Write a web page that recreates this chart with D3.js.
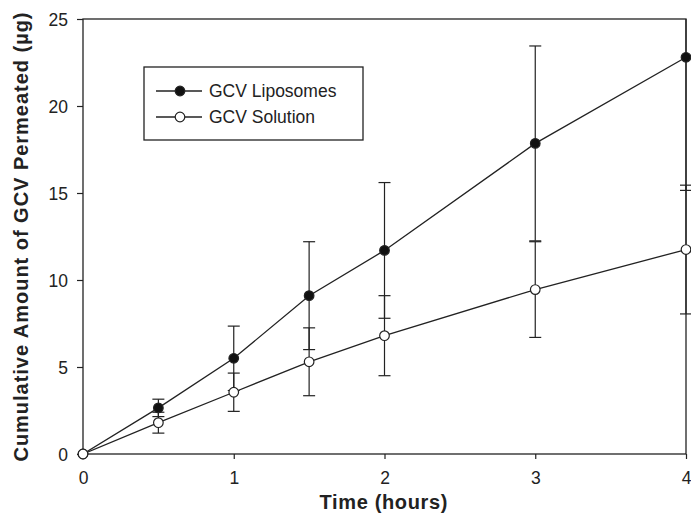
<!DOCTYPE html>
<html>
<head>
<meta charset="utf-8">
<script src="https://cdn.jsdelivr.net/npm/d3@7"></script>
<style>
  html, body { margin: 0; padding: 0; background: #fff; }
  svg text { font-family: "Liberation Sans", Arial, Helvetica, sans-serif; fill: #222; }
</style>
</head>
<body>
<svg id="chart" width="691" height="518"></svg>
<script>
// ---- data ----
const times = [0, 0.5, 1, 1.5, 2, 3, 4];
const liposomeMean = [0, 2.65, 5.5, 9.1, 11.7, 17.85, 22.8];
const liposomeErr  = [0, 0.5, 1.85, 3.1, 3.9, 5.6, 7.65];
const solutionMean = [0, 1.8, 3.55, 5.3, 6.8, 9.45, 11.75];
const solutionErr  = [0, 0.6, 1.1, 1.95, 2.3, 2.75, 3.7];
const xTicks = [0, 1, 2, 3, 4];
const yTicks = [0, 5, 10, 15, 20, 25];
const seriesNames = ["GCV Liposomes", "GCV Solution"];
const xTitle = "Time (hours)";
const yTitle = "Cumulative Amount of GCV Permeated (µg)";

// ---- layout ----
const svg = d3.select("#chart");
const L = 83, R = 686, T = 19, B = 454;
const x = d3.scaleLinear().domain([0, 4]).range([L, R]);
const y = d3.scaleLinear().domain([0, 25]).range([B, T]);
const ink = "#222";

svg.append("defs").append("clipPath").attr("id", "plotclip")
  .append("rect").attr("x", L - 10).attr("y", T).attr("width", R - L + 20).attr("height", B - T);

// frame
svg.append("rect").attr("x", L).attr("y", T).attr("width", R - L).attr("height", B - T)
  .attr("fill", "none").attr("stroke", ink).attr("stroke-width", 1.3);

// axes
const xAxis = svg.append("g").attr("transform", `translate(0,${B})`)
  .call(d3.axisBottom(x).tickValues(xTicks).tickFormat(d3.format("d")).tickSize(5).tickPadding(13));
const yAxis = svg.append("g").attr("transform", `translate(${L},0)`)
  .call(d3.axisLeft(y).tickValues(yTicks).tickFormat(d3.format("d")).tickSize(6).tickPadding(9));
[xAxis, yAxis].forEach(g => {
  g.select(".domain").remove();
  g.selectAll(".tick line").attr("stroke", ink).attr("stroke-width", 1.2);
  g.selectAll(".tick text").attr("font-size", 17.5).style("fill", ink)
    .attr("font-family", "'Liberation Sans', Arial, sans-serif");
});
yAxis.selectAll(".tick text").attr("dy", "0.36em");

// titles
svg.append("text").attr("x", (L + R) / 2 - 1).attr("y", 509).attr("text-anchor", "middle")
  .attr("font-size", 20).attr("font-weight", "bold").attr("textLength", 128)
  .attr("lengthAdjust", "spacing").text(xTitle);
svg.append("text").attr("transform", "translate(28,237) rotate(-90)").attr("text-anchor", "middle")
  .attr("font-size", 20).attr("font-weight", "bold").attr("textLength", 449)
  .attr("lengthAdjust", "spacing").text(yTitle);

// series
const series = [
  { name: seriesNames[0], mean: liposomeMean, err: liposomeErr, fill: "#111" },
  { name: seriesNames[1], mean: solutionMean, err: solutionErr, fill: "#fff" }
];
const plot = svg.append("g").attr("clip-path", "url(#plotclip)");
const capW = 6;

series.forEach(s => {
  const pts = times.map((t, i) => ({ t, m: s.mean[i], e: s.err[i] })).filter(d => d.e > 0);
  const eb = plot.append("g").attr("stroke", ink).attr("stroke-width", 1.2);
  eb.selectAll("line.v").data(pts).enter().append("line")
    .attr("x1", d => x(d.t)).attr("x2", d => x(d.t))
    .attr("y1", d => y(d.m - d.e)).attr("y2", d => y(d.m + d.e));
  eb.selectAll("line.top").data(pts).enter().append("line")
    .attr("x1", d => x(d.t) - capW).attr("x2", d => x(d.t) + capW)
    .attr("y1", d => y(d.m + d.e)).attr("y2", d => y(d.m + d.e));
  eb.selectAll("line.bot").data(pts).enter().append("line")
    .attr("x1", d => x(d.t) - capW).attr("x2", d => x(d.t) + capW)
    .attr("y1", d => y(d.m - d.e)).attr("y2", d => y(d.m - d.e));
});

const line = d3.line().x(d => x(d[0])).y(d => y(d[1]));
series.forEach(s => {
  plot.append("path").datum(times.map((t, i) => [t, s.mean[i]]))
    .attr("d", line).attr("fill", "none").attr("stroke", ink).attr("stroke-width", 1.3);
});
series.forEach(s => {
  svg.append("g").selectAll("circle").data(times.map((t, i) => [t, s.mean[i]])).enter()
    .append("circle").attr("cx", d => x(d[0])).attr("cy", d => y(d[1])).attr("r", 4.8)
    .attr("fill", s.fill).attr("stroke", ink).attr("stroke-width", 1.2);
});

// legend
const lg = svg.append("g");
lg.append("rect").attr("x", 144).attr("y", 67).attr("width", 219).attr("height", 73)
  .attr("fill", "#fff").attr("stroke", ink).attr("stroke-width", 1.3);
series.forEach((s, i) => {
  const ly = 91 + i * 26;
  lg.append("line").attr("x1", 156).attr("x2", 202).attr("y1", ly).attr("y2", ly)
    .attr("stroke", ink).attr("stroke-width", 1.3);
  lg.append("circle").attr("cx", 180).attr("cy", ly).attr("r", 4.8)
    .attr("fill", s.fill).attr("stroke", ink).attr("stroke-width", 1.2);
  lg.append("text").attr("x", 209).attr("y", ly).attr("dy", "0.36em")
    .attr("font-size", 17.5).text(s.name);
});
</script>
</body>
</html>
